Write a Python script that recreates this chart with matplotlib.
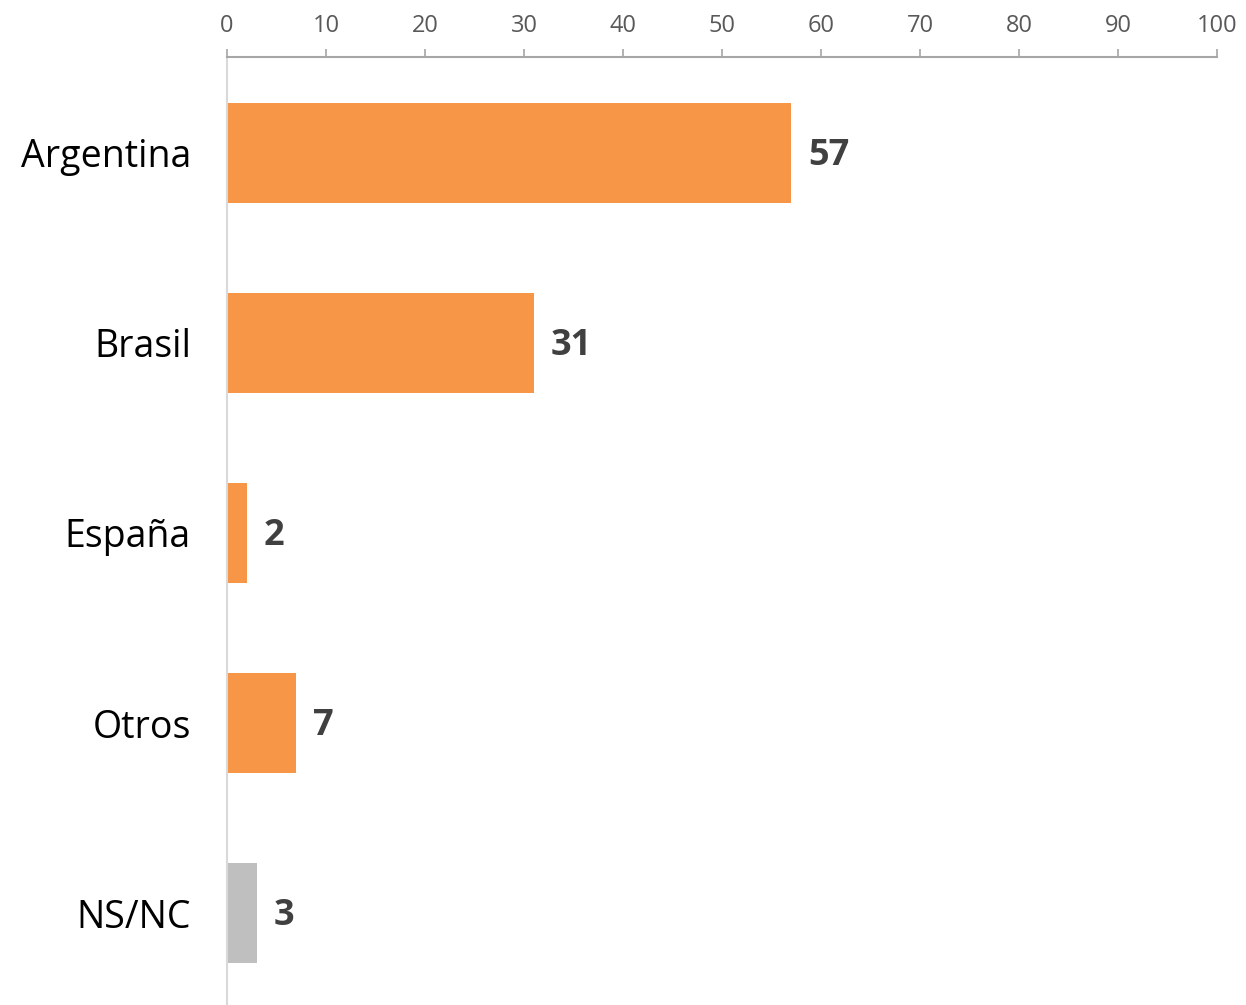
import matplotlib.pyplot as plt

categories = ["Argentina", "Brasil", "España", "Otros", "NS/NC"]
values = [57, 31, 2, 7, 3]
colors = ["#F79646", "#F79646", "#F79646", "#F79646", "#BFBFBF"]
ticks = [0, 10, 20, 30, 40, 50, 60, 70, 80, 90, 100]

plt.rcParams['font.family'] = ['Open Sans', 'DejaVu Sans']

fig = plt.figure(figsize=(12.46, 10.05), dpi=100)
ax = fig.add_axes([227 / 1246, 0, 990 / 1246, 1 - 57 / 1005])

pos = list(range(len(categories)))
bars = ax.barh(pos, values, height=0.526, color=colors)

ax.set_xlim(0, 100)
ax.set_ylim(4.484, -0.505)
ax.set_yticks(pos)
ax.set_yticklabels(categories, fontsize=27, color="black")
ax.tick_params(axis="y", length=0, pad=26)

ax.set_xticks(ticks)
ax.xaxis.tick_top()
ax.tick_params(axis="x", direction="out", length=6, width=1.2, color="#A6A6A6",
               labelsize=17, labelcolor="#595959", pad=8)

for s in ["right", "bottom"]:
    ax.spines[s].set_visible(False)
ax.spines["top"].set_color("#A6A6A6")
ax.spines["top"].set_linewidth(1.5)
ax.spines["left"].set_color("#D9D9D9")
ax.spines["left"].set_linewidth(1.5)

for b, v in zip(bars, values):
    ax.annotate(str(v), (v, b.get_y() + b.get_height() / 2), xytext=(12, -2),
                textcoords="offset points", va="center", ha="left",
                fontsize=26, fontweight="bold", color="#404040")

fig.savefig("out.png", dpi=100)
